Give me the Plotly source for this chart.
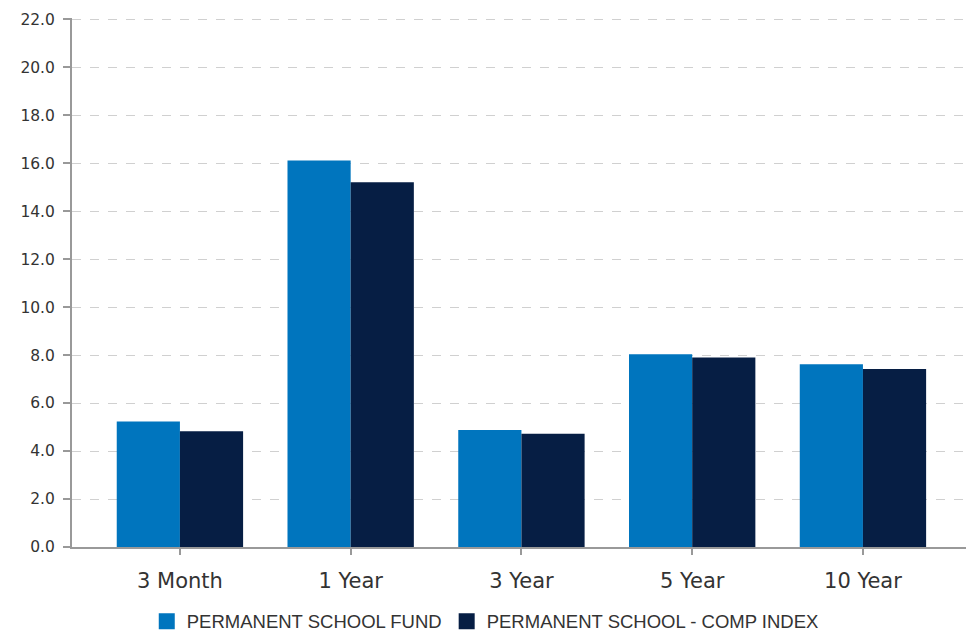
import plotly.graph_objects as go

categories = ["3 Month", "1 Year", "3 Year", "5 Year", "10 Year"]
fund = [5.23, 16.11, 4.88, 8.03, 7.62]
index = [4.82, 15.20, 4.72, 7.90, 7.42]
tick_vals = [0, 2, 4, 6, 8, 10, 12, 14, 16, 18, 20, 22]
tick_text = [f"{v:.1f}" for v in tick_vals]
names = ["PERMANENT SCHOOL FUND", "PERMANENT SCHOOL - COMP INDEX"]
colors = ["#0075BE", "#061E44"]

fig = go.Figure()
for vals, name, col in zip([fund, index], names, colors):
    fig.add_trace(go.Bar(x=categories, y=vals, name=name, showlegend=False,
                         marker=dict(color=col, line=dict(width=0))))
# legend entries with larger square swatches
for name, col in zip(names, colors):
    fig.add_trace(go.Scatter(x=[None], y=[None], mode="markers", name=name,
                             marker=dict(symbol="square", size=20, color=col)))

fig.update_layout(
    width=974, height=636,
    margin=dict(l=64, r=12, t=10, b=97, autoexpand=False),
    paper_bgcolor="white", plot_bgcolor="white",
    barmode="group", bargap=0.26, bargroupgap=0,
    font=dict(family="Liberation Sans, Arial, sans-serif", color="#222"),
    showlegend=True,
    legend=dict(orientation="h", xref="container", x=0.49, xanchor="center",
                yref="container", y=0.035, yanchor="middle",
                font=dict(size=18.5, color="#333"), traceorder="normal",
                itemsizing="trace", itemwidth=30),
)
fig.update_xaxes(
    range=[-0.632, 4.627], automargin=False,
    showline=True, linecolor="#999999", linewidth=2,
    ticks="outside", ticklen=6, tickcolor="#999999", tickwidth=2,
    tickfont=dict(family="DejaVu Sans, sans-serif", size=21, color="#333"),
    ticklabelstandoff=8,
    showgrid=False, zeroline=False,
)
fig.update_yaxes(
    range=[0, 22.05], automargin=False,
    tickvals=tick_vals, ticktext=tick_text,
    showline=True, linecolor="#999999", linewidth=2,
    ticks="outside", ticklen=7, tickcolor="#999999", tickwidth=2,
    tickfont=dict(family="DejaVu Sans, sans-serif", size=15.5, color="#333"),
    ticklabelstandoff=5, ticklabeloverflow="allow",
    showgrid=True, gridcolor="#d0d0d0", griddash="dash", gridwidth=1,
    zeroline=False,
)

fig.write_html("out.html")
